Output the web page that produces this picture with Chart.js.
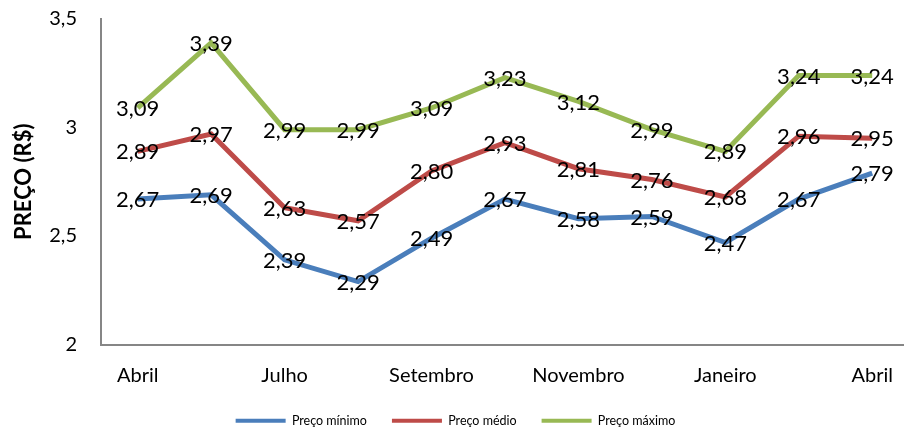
<!DOCTYPE html>
<html>
<head>
<meta charset="utf-8">
<script src="https://cdn.jsdelivr.net/npm/chart.js@4/dist/chart.umd.min.js"></script>
<style>
  html, body { margin: 0; padding: 0; background: #fff; overflow: hidden; }
  #wrap { width: 912px; height: 437px; position: relative; }
</style>
</head>
<body>
<div id="wrap"><canvas id="c"></canvas></div>
<script>
const categories = ['Abril','Junho','Julho','Agosto','Setembro','Outubro','Novembro','Dezembro','Janeiro','Março','Abril'];
const precoMinimo = [2.67, 2.69, 2.39, 2.29, 2.49, 2.67, 2.58, 2.59, 2.47, 2.67, 2.79];
const precoMedio  = [2.89, 2.97, 2.63, 2.57, 2.80, 2.93, 2.81, 2.76, 2.68, 2.96, 2.95];
const precoMaximo = [3.09, 3.39, 2.99, 2.99, 3.09, 3.23, 3.12, 2.99, 2.89, 3.24, 3.24];
const seriesNames = ['Preço mínimo', 'Preço médio', 'Preço máximo'];
const yTicks = [2, 2.5, 3, 3.5];

const FONT = 'Lato, "Open Sans", sans-serif';
const fmt = v => String(v).replace('.', ',');

const dataLabels = {
  id: 'dataLabels',
  afterDatasetsDraw(chart) {
    const ctx = chart.ctx;
    ctx.save();
    ctx.font = '22px ' + FONT;
    ctx.fillStyle = '#000';
    ctx.textAlign = 'center';
    ctx.textBaseline = 'middle';
    chart.data.datasets.forEach((ds, di) => {
      const meta = chart.getDatasetMeta(di);
      meta.data.forEach((pt, i) => {
        ctx.fillText(ds.data[i].toFixed(2).replace('.', ','), pt.x, pt.y + 1);
      });
    });
    ctx.restore();
  }
};

const colors = ['#4A7EBB', '#BE4B48', '#98B954'];
const seriesData = [precoMinimo, precoMedio, precoMaximo];

new Chart(document.getElementById('c'), {
  type: 'line',
  data: {
    labels: categories,
    datasets: seriesNames.map((n, i) => ({
      label: n,
      data: seriesData[i],
      borderColor: colors[i],
      backgroundColor: colors[i],
      borderWidth: 5,
      pointRadius: 0,
      tension: 0,
      fill: false
    }))
  },
  options: {
    responsive: true,
    maintainAspectRatio: false,
    animation: false,
    layout: { padding: { top: 19, left: 0, right: 1, bottom: 0 } },
    plugins: {
      legend: {
        position: 'bottom',
        labels: {
          boxWidth: 50,
          boxHeight: 4,
          padding: 25,
          color: '#222',
          font: { family: FONT, size: 12.5 },
          generateLabels(chart) {
            return chart.data.datasets.map((ds, i) => ({
              text: ds.label,
              fillStyle: ds.borderColor,
              strokeStyle: ds.borderColor,
              lineWidth: 0,
              hidden: false,
              datasetIndex: i
            }));
          }
        }
      },
      tooltip: { enabled: false }
    },
    scales: {
      x: {
        offset: true,
        grid: { display: false, drawTicks: false },
        border: { display: true, color: '#868686', width: 2 },
        ticks: {
          autoSkip: false,
          maxRotation: 0,
          padding: 19,
          color: '#000',
          font: { family: FONT, size: 20 },
          callback: function(v, i) { return i % 2 === 0 ? this.getLabelForValue(v) : ''; }
        },
        afterFit(scale) { scale.height = 45; }
      },
      y: {
        min: 2,
        max: 3.5,
        afterBuildTicks(scale) { scale.ticks = yTicks.map(v => ({ value: v })); },
        grid: { display: false, drawTicks: false },
        border: { display: true, color: '#868686', width: 2 },
        ticks: {
          padding: 24,
          color: '#000',
          font: { family: FONT, size: 20 },
          callback: v => fmt(v)
        },
        title: {
          display: true,
          text: 'PREÇO (R$)',
          color: '#000',
          font: { family: FONT, size: 22, weight: 'bold' },
          padding: { top: 11, bottom: 0 }
        },
        afterFit(scale) { scale.width = 101; scale.paddingTop = 0; scale.paddingBottom = 0; }
      }
    }
  },
  plugins: [dataLabels]
});
</script>
</body>
</html>
